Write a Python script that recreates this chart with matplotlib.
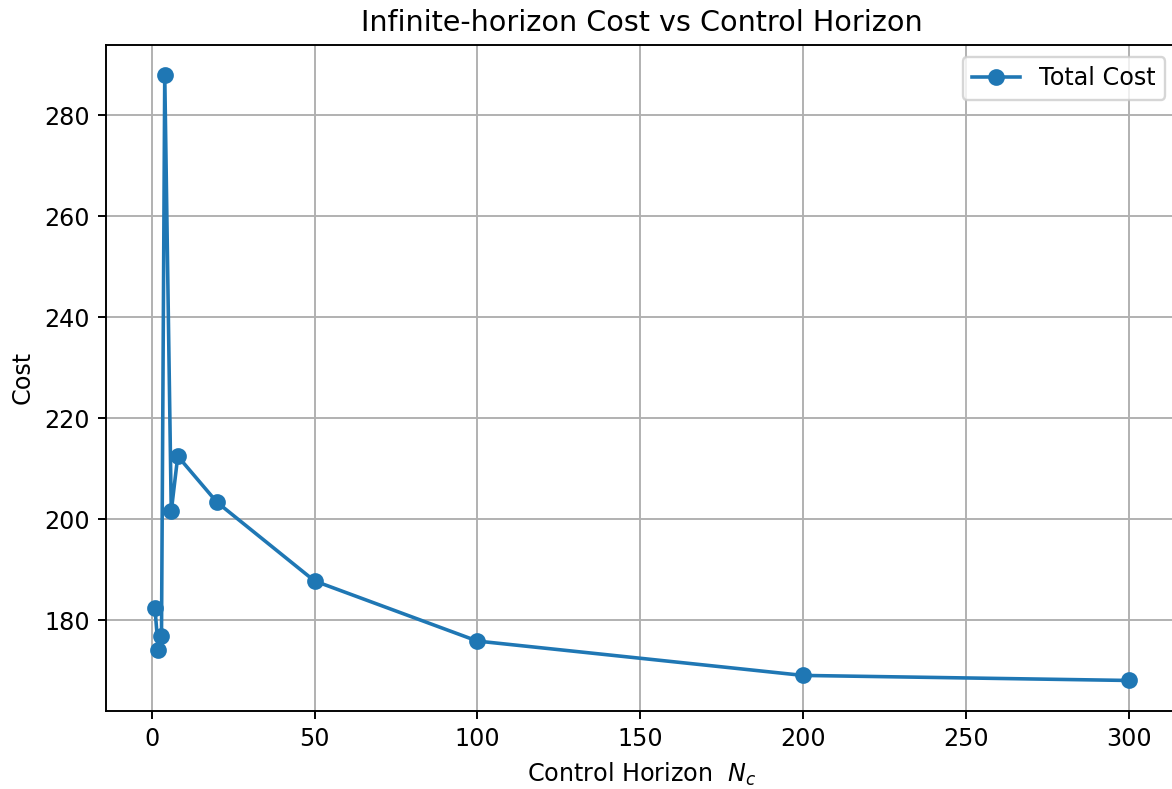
import matplotlib
matplotlib.use("Agg")
import matplotlib.pyplot as plt

# control horizons and resulting infinite-horizon cost
horizons = [1, 2, 3, 4, 6, 8, 20, 50, 100, 200, 300]
total_cost = [182.4, 174.2, 176.9, 287.9, 201.6, 212.5, 203.4, 187.8, 175.9, 169.1, 168.1]

fig = plt.figure(figsize=(1172 / 172, 789 / 172), dpi=172)
ax = fig.add_axes([0.0907, 0.0992, 0.9138, 0.8438])

ax.plot(horizons, total_cost, marker='o', label='Total Cost')
ax.set_xlabel('Control Horizon  $N_c$')
ax.set_ylabel('Cost')
ax.set_title('Infinite-horizon Cost vs Control Horizon')
ax.grid(True)
ax.legend(loc='upper right')

fig.savefig('out.png')
